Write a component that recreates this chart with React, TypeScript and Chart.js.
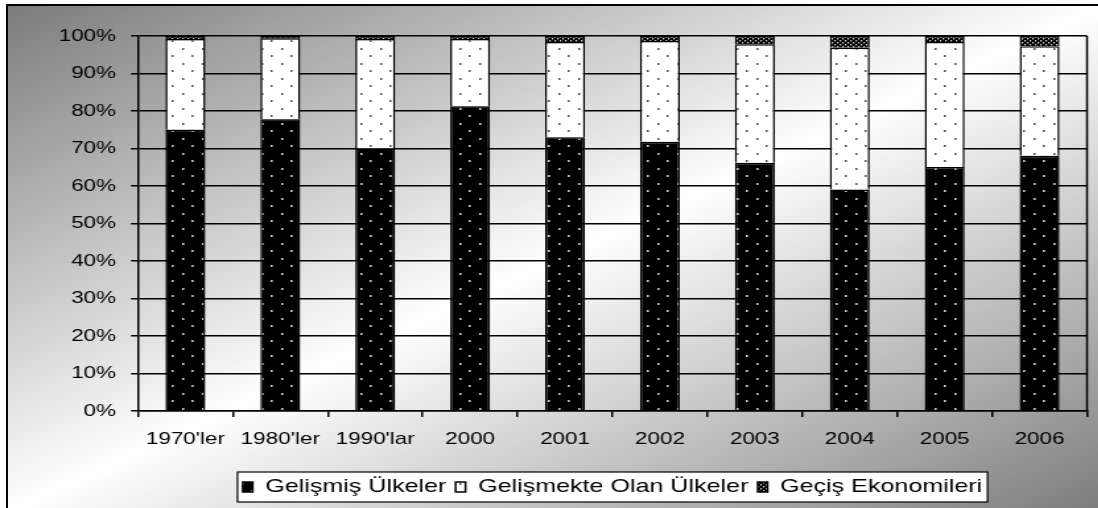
import React, { useEffect, useRef } from 'react';
import { Chart, registerables } from 'chart.js';

Chart.register(...registerables);

const categories = ["1970'ler", "1980'ler", "1990'lar", "2000", "2001", "2002", "2003", "2004", "2005", "2006"];
const gelismis = [75, 77.8, 70, 81.3, 73, 71.8, 66.2, 59.1, 65.1, 68.1];
const gelismekte = [24.2, 21.6, 29.2, 17.9, 25.4, 26.9, 31.6, 37.8, 33.3, 29.2];
const gecis = [0.8, 0.6, 0.8, 0.8, 1.6, 1.3, 2.2, 3.1, 1.6, 2.7];
const seriesNames = ['Gelişmiş Ülkeler', 'Gelişmekte Olan Ülkeler', 'Geçiş Ekonomileri'];

const SX = 1.32;
const W = Math.round(1098 / SX);
const H = 508;
const FONT = { family: '"Liberation Sans", Arial, sans-serif', size: 17 };
const LEGEND_FONT = { family: '"Liberation Sans", Arial, sans-serif', size: 19 };

function makePattern(bg: string, dot: string, w: number, h: number, dots: number[][], dw: number, dh: number) {
  const c = document.createElement('canvas');
  c.width = w;
  c.height = h;
  const g = c.getContext('2d')!;
  g.fillStyle = bg;
  g.fillRect(0, 0, w, h);
  g.fillStyle = dot;
  for (const [x, y] of dots) g.fillRect(x, y, dw, dh);
  return g.createPattern(c, 'repeat')!;
}

const framePlugin = {
  id: 'framePlugin',
  beforeDraw(chart: any) {
    const ctx = chart.ctx;
    const lg = chart.legend;
    if (lg && lg.legendHitBoxes && lg.legendHitBoxes.length) {
      const hb = lg.legendHitBoxes;
      let minX = Infinity, maxX = -Infinity;
      for (const b of hb) {
        minX = Math.min(minX, b.left);
        maxX = Math.max(maxX, b.left + b.width);
      }
      const cy = hb[0].top + hb[0].height / 2;
      ctx.save();
      ctx.fillStyle = '#ffffff';
      ctx.strokeStyle = '#000000';
      ctx.lineWidth = 1.2;
      ctx.fillRect(minX - 4, cy - 15, maxX - minX + 8, 30);
      ctx.strokeRect(minX - 4, cy - 15, maxX - minX + 8, 30);
      ctx.restore();
    }
  },
  afterDatasetsDraw(chart: any) {
    const { ctx, chartArea } = chart;
    ctx.save();
    ctx.strokeStyle = '#000';
    ctx.lineWidth = 1.5;
    ctx.beginPath();
    ctx.moveTo(chartArea.right, chartArea.top);
    ctx.lineTo(chartArea.right, chartArea.bottom);
    ctx.stroke();
    ctx.restore();
  },
};

export default function App() {
  const ref = useRef<HTMLCanvasElement | null>(null);

  useEffect(() => {
    document.body.style.overflow = 'hidden';
    const canvas = ref.current!;
    const pDark = makePattern('#000000', '#c8c8c8', 15, 15, [[3, 3], [10, 10]], 1.6, 2);
    const pLight = makePattern('#ffffff', '#555555', 15, 15, [[3, 3], [10, 10]], 1.5, 2);
    const pMix = makePattern('#000000', '#d0d0d0', 4, 4, [[0, 0], [2, 2]], 1.2, 1.5);

    const chart = new Chart(canvas, {
      type: 'bar',
      data: {
        labels: categories,
        datasets: [
          { label: seriesNames[0], data: gelismis, backgroundColor: pDark, borderColor: '#000', borderWidth: 1.5 },
          { label: seriesNames[1], data: gelismekte, backgroundColor: pLight, borderColor: '#000', borderWidth: 1.5 },
          { label: seriesNames[2], data: gecis, backgroundColor: pMix, borderColor: '#000', borderWidth: 1.5 },
        ],
      },
      options: {
        responsive: false,
        animation: false,
        devicePixelRatio: 1,
        datasets: { bar: { categoryPercentage: 1, barPercentage: 0.42 } },
        layout: { padding: { top: 36, left: 0, right: W - 823.5, bottom: 1.5 } },
        plugins: {
          legend: {
            position: 'bottom',
            fullSize: false,
            labels: { font: LEGEND_FONT, color: '#000', boxWidth: 7.5, boxHeight: 10, padding: 7 },
          },
          tooltip: { enabled: false },
        },
        scales: {
          x: {
            stacked: true,
            grid: { drawOnChartArea: false, offset: true, tickLength: 6, color: '#000', lineWidth: 1.5 },
            border: { color: '#000', width: 1.5 },
            ticks: { font: FONT, color: '#000', padding: 12, maxRotation: 0, autoSkip: false },
            afterFit: (s: any) => { s.height = 59.5; },
          },
          y: {
            stacked: true,
            min: 0,
            max: 100,
            ticks: { stepSize: 10, font: FONT, color: '#000', padding: 11.3, callback: (v: any) => v + '%' },
            grid: { color: '#000', lineWidth: 1.5, tickLength: 5.3 },
            border: { color: '#000', width: 1.5 },
            afterFit: (s: any) => { s.width = 104.5; },
          },
        },
      },
      plugins: [framePlugin],
    } as any);
    return () => chart.destroy();
  }, []);

  return (
    <>
      <div
        style={{
          position: 'fixed',
          left: 6,
          top: 4,
          width: 1100,
          height: 510,
          boxSizing: 'border-box',
          border: '2px solid #000',
          background: 'linear-gradient(to bottom right, #7c7c7c 0%, #ffffff 50%, #7c7c7c 100%)',
        }}
      />
      <div
        style={{
          position: 'fixed',
          left: 0,
          top: 0,
          width: W,
          height: H,
          transform: `scaleX(${SX})`,
          transformOrigin: '0 0',
        }}
      >
        <canvas ref={ref} width={W} height={H} style={{ display: 'block' }} />
      </div>
    </>
  );
}
